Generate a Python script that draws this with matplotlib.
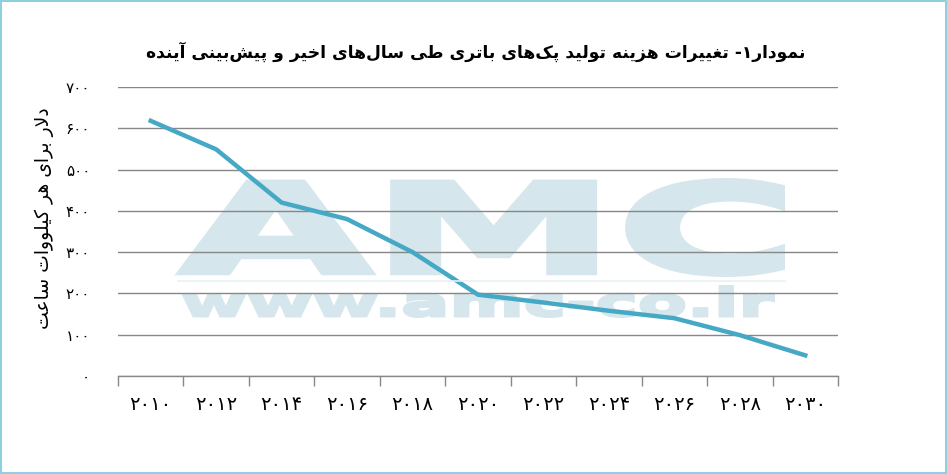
import numpy as np
import matplotlib
matplotlib.use("Agg")
import matplotlib.pyplot as plt
from matplotlib.textpath import TextPath
from matplotlib.patches import PathPatch, Rectangle
from matplotlib.font_manager import FontProperties
from matplotlib.transforms import Affine2D
from matplotlib.lines import Line2D

# data
years = ["۲۰۱۰", "۲۰۱۲", "۲۰۱۴", "۲۰۱۶", "۲۰۱۸", "۲۰۲۰",
         "۲۰۲۲", "۲۰۲۴", "۲۰۲۶", "۲۰۲۸", "۲۰۳۰"]
cost = [618, 549, 420, 380, 300, 197, 178, 158, 140, 99, 50]
yticks = [0, 100, 200, 300, 400, 500, 600, 700]
ytick_labels = ["۰", "۱۰۰", "۲۰۰", "۳۰۰", "۴۰۰", "۵۰۰", "۶۰۰", "۷۰۰"]
title = "نمودار۱- تغییرات هزینه تولید پک\u200cهای باتری طی سال\u200cهای اخیر و پیش\u200cبینی آینده"
ylabel = "دلار برای هر کیلووات ساعت"


# matplotlib has no arabic shaping, so pick presentation forms by hand
def dual(base):
    return tuple(chr(base + i) for i in range(4))


def right(base):
    return (chr(base), chr(base + 1), None, None)


FORMS = {
    "ا": right(0xFE8D), "آ": right(0xFE81), "د": right(0xFEA9),
    "ذ": right(0xFEAB), "ر": right(0xFEAD), "ز": right(0xFEAF),
    "و": right(0xFEED),
    "ب": dual(0xFE8F), "پ": dual(0xFB56), "ت": dual(0xFE95),
    "خ": dual(0xFEA5), "س": dual(0xFEB1), "ش": dual(0xFEB5),
    "ط": dual(0xFEC1), "ع": dual(0xFEC9), "غ": dual(0xFECD),
    "ک": dual(0xFB8E), "ل": dual(0xFEDD), "م": dual(0xFEE1),
    "ن": dual(0xFEE5), "ه": dual(0xFEE9), "ی": dual(0xFBFC),
}


def joins_left(c):
    return c in FORMS and FORMS[c][2] is not None


def shape(text):
    out = []
    i, n = 0, len(text)
    while i < n:
        c = text[i]
        if c not in FORMS:
            if c != "\u200c":
                out.append(c)
            i += 1
            continue
        jp = i > 0 and joins_left(text[i - 1])
        if c == "ل" and i + 1 < n and text[i + 1] in "اآ":
            lig = ("\uFEFB", "\uFEFC") if text[i + 1] == "ا" else ("\uFEF5", "\uFEF6")
            out.append(lig[1] if jp else lig[0])
            i += 2
            continue
        jn = joins_left(c) and i + 1 < n and text[i + 1] in FORMS
        iso, fin, ini, med = FORMS[c]
        out.append(med if jp and jn else fin if jp else ini if jn else iso)
        i += 1
    return "".join(out)[::-1]


W, H = 947, 474
fig = plt.figure(figsize=(W / 100, H / 100), dpi=100)
fig.patches.append(Rectangle((0, 0), 1, 1, transform=fig.transFigure, fill=False,
                             edgecolor="#8ecfe0", linewidth=2.9))

ax = fig.add_axes([118 / W, (H - 376) / H, 720 / W, 289 / H])
ax.patch.set_alpha(0)

# watermark
wm = "#d5e6ec"


def stamp(s, x0, y0, x1, y1, stroke):
    # fit the text outline into a pixel box, thickened by an edge stroke
    tp = TextPath((0, 0), s, size=100, prop=FontProperties(family="DejaVu Sans", weight="bold"))
    bb = tp.get_extents()
    h = stroke / 2
    tr = (Affine2D().translate(-bb.x0, -bb.y0)
          .scale((x1 - x0 - stroke) / bb.width, (y1 - y0 - stroke) / bb.height)
          .translate(x0 + h, H - y1 + h))
    p = PathPatch(tp, transform=tr, facecolor=wm, edgecolor=wm,
                  linewidth=stroke * 0.72, zorder=1)
    p.set_clip_on(False)
    ax.add_artist(p)


stamp("AMC", 178, 178, 785, 277, 7)
stamp("www.amc-co.ir", 182, 285, 775, 318, 3)
fig.add_artist(Line2D([178 / W, 785 / W], [1 - 281 / H] * 2, color="#e8f1f4", lw=1.2, zorder=0.5))

ax.plot(range(len(cost)), cost, color="#45a8c4", lw=3.2, solid_joinstyle="round", zorder=3)

ax.set_xlim(-0.5, len(years) - 0.5)
ax.set_ylim(0, 700)
for s in ["left", "right", "top"]:
    ax.spines[s].set_visible(False)
ax.spines["bottom"].set_color("#878787")
ax.spines["bottom"].set_linewidth(1)

ax.set_yticks(yticks, ytick_labels, fontsize=11)
ax.tick_params(axis="y", length=0, pad=20)
ax.yaxis.grid(True, color="#878787", lw=1)

ax.set_xticks(np.arange(-0.5, len(years), 1), [""] * (len(years) + 1))
ax.tick_params(axis="x", which="major", length=7, color="#878787", width=1)
ax.set_xticks(range(len(years)), years, minor=True, fontsize=14)
ax.tick_params(axis="x", which="minor", length=0, pad=14)

fig.text(476 / W, 1 - 52 / H, shape(title), ha="center", va="center",
         fontsize=12.3, fontweight="bold")
fig.text(44 / W, 1 - 218 / H, shape(ylabel), rotation=90, ha="center", va="center",
         fontsize=13.5)

fig.savefig("out.png", dpi=100)
